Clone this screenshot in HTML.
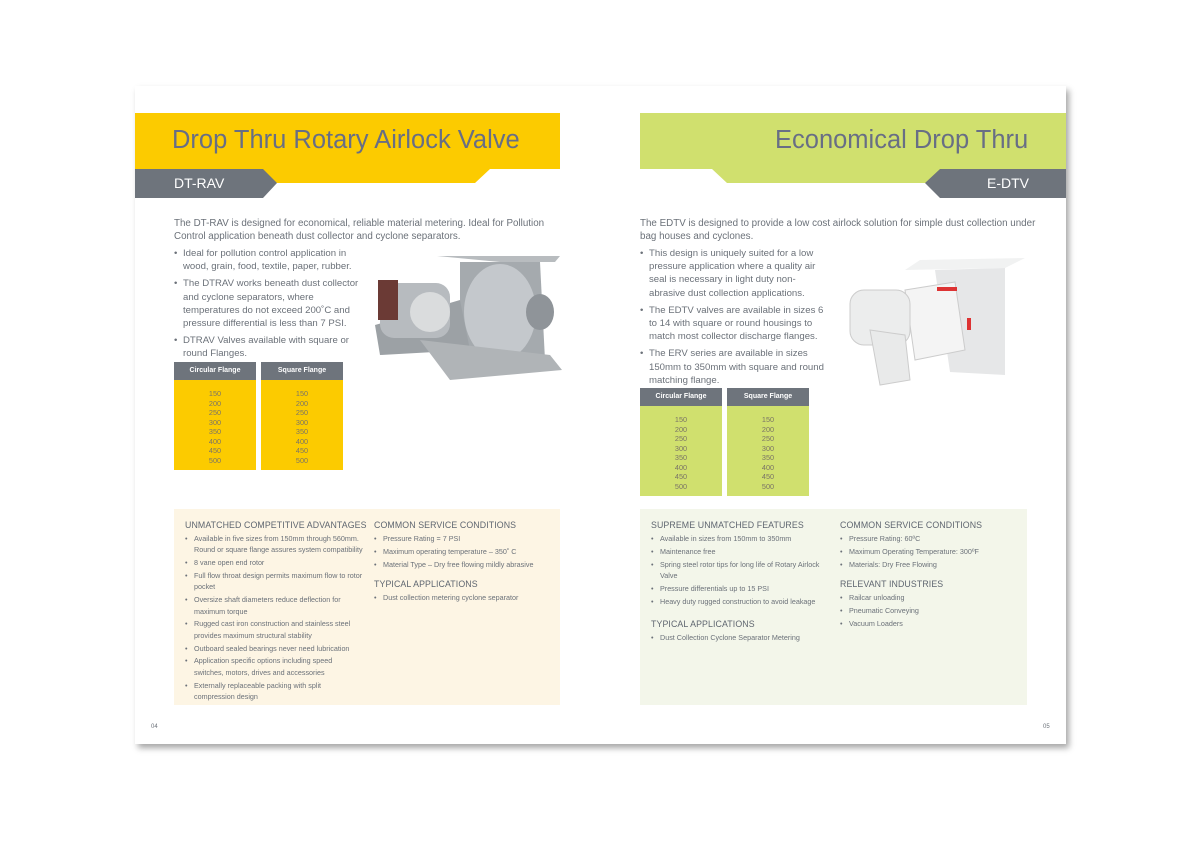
<!DOCTYPE html>
<html><head><meta charset="utf-8"><style>
*{margin:0;padding:0;box-sizing:border-box}
body{width:1200px;height:848px;background:#fff;position:relative;overflow:hidden;font-family:"Liberation Sans",sans-serif;color:#6b7179}
.a{position:absolute}
.page{left:135px;top:86px;width:931px;height:658px;background:#fff;box-shadow:3px 4px 6px rgba(0,0,0,.35)}
.t{font-size:10px;line-height:13px}
ul{list-style:none}
li{position:relative;padding-left:9px}
li:before{content:"•";position:absolute;left:0}
.body li{font-size:9.6px;line-height:13.2px;margin-bottom:4px;padding-left:9px}
.sm li{font-size:7.2px;line-height:11.4px;margin-bottom:1.4px;padding-left:9px}
h4{font-size:8.8px;font-weight:normal;letter-spacing:.1px;color:#5f6670;margin-bottom:3px;white-space:nowrap}
.th{height:18px;background:#6e747c;color:#fff;font-size:7px;font-weight:bold;text-align:center;line-height:18px}
.tb{font-size:7.3px;line-height:9.5px;text-align:center;padding-top:9px;color:#7a7466}
</style></head><body>
<div class="a page"></div>
<svg class="a" style="left:0;top:0" width="1200" height="848">
<polygon points="135,113 560,113 560,169 490,169 475,183 135,183" fill="#fccb00"/>
<polygon points="135,169 263,169 277,183 263,198 135,198" fill="#6e747c"/>
<polygon points="640,113 1066,113 1066,183 727,183 712,169 640,169" fill="#d0e06e"/>
<polygon points="940,169 1066,169 1066,198 940,198 925,183" fill="#6e747c"/>
<g>
<polygon points="437,256 560,256 555,262 500,262" fill="#b8bcbf"/>
<polygon points="460,262 540,262 545,360 460,365" fill="#a5aaae"/>
<ellipse cx="500" cy="312" rx="36" ry="48" fill="#c4c8cc"/>
<ellipse cx="540" cy="312" rx="14" ry="18" fill="#8f9499"/>
<polygon points="375,325 460,300 470,350 380,355" fill="#9ca1a5"/>
<rect x="380" y="283" width="70" height="55" rx="14" fill="#b7bbbf"/>
<rect x="378" y="280" width="20" height="40" fill="#6b3a35"/>
<circle cx="430" cy="312" r="20" fill="#dadcdd"/>
<polygon points="420,340 550,355 562,370 450,380" fill="#b0b4b7"/>
</g>
<g>
<polygon points="920,260 1025,258 1005,268 905,270" fill="#f1f2f2"/>
<polygon points="935,270 1005,268 1005,375 950,372" fill="#e6e7e8"/>
<polygon points="905,290 955,282 965,350 915,360" fill="#f4f4f4" stroke="#ccc"/>
<rect x="850" y="290" width="60" height="55" rx="14" fill="#eceded" stroke="#ccc"/>
<polygon points="870,330 905,335 910,380 880,385" fill="#e9eaea" stroke="#ccc"/>
<rect x="937" y="287" width="20" height="4" fill="#d33"/>
<rect x="967" y="318" width="4" height="12" fill="#d33"/>
</g>
<path d="M222,380 l8,8 l8,-8z M295,380 l8,8 l8,-8z" fill="#6e747c"/>
<path d="M673,406 l8,8 l8,-8z M761,406 l8,8 l8,-8z" fill="#6e747c"/>
<line x1="374" y1="573" x2="550" y2="573" stroke="#8a8f94" stroke-width="1"/>
<line x1="640" y1="577" x2="828" y2="577" stroke="#8a8f94" stroke-width="1"/>
<line x1="840" y1="573" x2="1017" y2="573" stroke="#8a8f94" stroke-width="1"/>
</svg>
<div class="a" style="left:172px;top:126px;font-size:25.5px;color:#686e85">Drop Thru Rotary Airlock Valve</div>
<div class="a" style="left:174px;top:175px;font-size:14px;color:#fff">DT-RAV</div>
<div class="a" style="left:775px;top:126px;font-size:25.5px;color:#686e85">Economical Drop Thru</div>
<div class="a" style="left:987px;top:175px;font-size:14px;color:#fff">E-DTV</div>

<div class="a t" style="left:174px;top:217px;width:400px;font-size:9.8px">The DT-RAV is designed for economical, reliable material metering. Ideal for Pollution Control application beneath dust collector and cyclone separators.</div>
<ul class="a body" style="left:174px;top:247px;width:190px">
<li>Ideal for pollution control application in wood, grain, food, textile, paper, rubber.</li>
<li>The DTRAV works beneath dust collector and cyclone separators, where temperatures do not exceed 200˚C and pressure differential is less than 7 PSI.</li>
<li>DTRAV Valves available with square or round Flanges.</li>
</ul>
<div class="a" style="left:174px;top:362px;width:82px;height:108px;background:#fccb00"><div class="th">Circular Flange</div><div class="tb">150<br>200<br>250<br>300<br>350<br>400<br>450<br>500</div></div>
<div class="a" style="left:261px;top:362px;width:82px;height:108px;background:#fccb00"><div class="th">Square Flange</div><div class="tb">150<br>200<br>250<br>300<br>350<br>400<br>450<br>500</div></div>

<div class="a t" style="left:640px;top:217px;width:400px;font-size:9.8px">The EDTV is designed to provide a low cost airlock solution for simple dust collection under bag houses and cyclones.</div>
<ul class="a body" style="left:640px;top:247px;width:190px">
<li>This design is uniquely suited for a low pressure application where a quality air seal is necessary in light duty non-abrasive dust collection applications.</li>
<li>The EDTV valves are available in sizes 6 to 14 with square or round housings to match most collector discharge flanges.</li>
<li>The ERV series are available in sizes 150mm to 350mm with square and round matching flange.</li>
</ul>
<div class="a" style="left:640px;top:388px;width:82px;height:108px;background:#d0e06e"><div class="th">Circular Flange</div><div class="tb">150<br>200<br>250<br>300<br>350<br>400<br>450<br>500</div></div>
<div class="a" style="left:727px;top:388px;width:82px;height:108px;background:#d0e06e"><div class="th">Square Flange</div><div class="tb">150<br>200<br>250<br>300<br>350<br>400<br>450<br>500</div></div>

<div class="a" style="left:174px;top:509px;width:386px;height:196px;background:#fdf5e4"></div>
<div class="a" style="left:640px;top:509px;width:387px;height:196px;background:#f3f6ea"></div>

<div class="a" style="left:185px;top:520px;width:180px"><h4>UNMATCHED COMPETITIVE ADVANTAGES</h4>
<ul class="sm" style="width:180px"><li>Available in five sizes from 150mm through 560mm. Round or square flange assures system compatibility</li><li>8 vane open end rotor</li><li>Full flow throat design permits maximum flow to rotor pocket</li><li>Oversize shaft diameters reduce deflection for maximum torque</li><li>Rugged cast iron construction and stainless steel provides maximum structural stability</li><li>Outboard sealed bearings never need lubrication</li><li style="width:165px">Application specific options including speed switches, motors, drives and accessories</li><li style="width:165px">Externally replaceable packing with split compression design</li></ul></div>
<div class="a" style="left:374px;top:520px;width:185px"><h4>COMMON SERVICE CONDITIONS</h4>
<ul class="sm"><li>Pressure Rating = 7 PSI</li><li>Maximum operating temperature – 350˚ C</li><li>Material Type – Dry free flowing mildly abrasive</li></ul>
<h4 style="margin-top:9px">TYPICAL APPLICATIONS</h4><ul class="sm"><li>Dust collection metering cyclone separator</li></ul></div>

<div class="a" style="left:651px;top:520px;width:185px"><h4>SUPREME UNMATCHED FEATURES</h4>
<ul class="sm" style="width:172px"><li>Available in sizes from 150mm to 350mm</li><li>Maintenance free</li><li>Spring steel rotor tips for long life of Rotary Airlock Valve</li><li>Pressure differentials up to 15 PSI</li><li>Heavy duty rugged construction to avoid leakage</li></ul>
<h4 style="margin-top:12px">TYPICAL APPLICATIONS</h4><ul class="sm"><li>Dust Collection Cyclone Separator Metering</li></ul></div>
<div class="a" style="left:840px;top:520px;width:185px"><h4>COMMON SERVICE CONDITIONS</h4>
<ul class="sm"><li>Pressure Rating: 60ºC</li><li>Maximum Operating Temperature: 300ºF</li><li>Materials: Dry Free Flowing</li></ul>
<h4 style="margin-top:9px">RELEVANT INDUSTRIES</h4><ul class="sm"><li>Railcar unloading</li><li>Pneumatic Conveying</li><li>Vacuum Loaders</li></ul></div>

<div class="a" style="left:151px;top:724px;font-size:6px">04</div>
<div class="a" style="left:1043px;top:724px;font-size:6px">05</div>
</body></html>
